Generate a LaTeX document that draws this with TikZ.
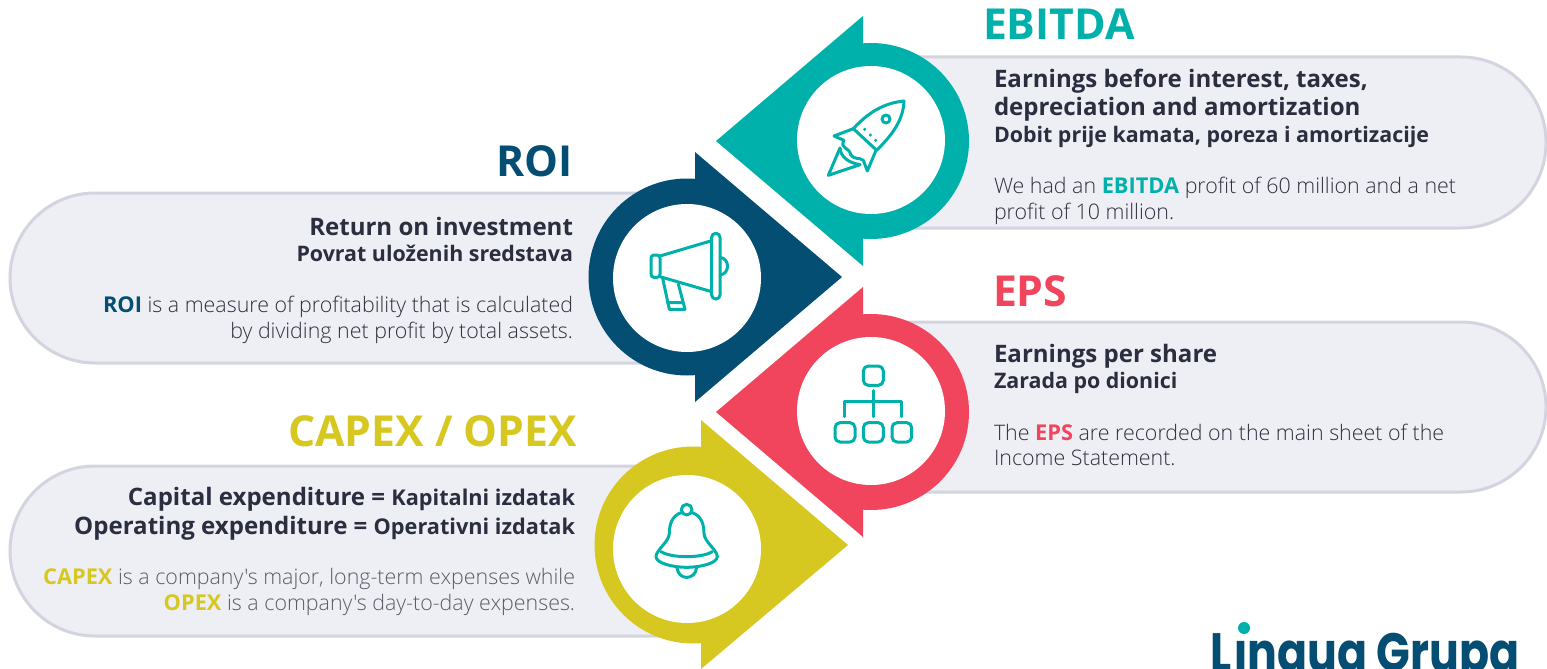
\documentclass[tikz,border=0pt]{standalone}
\usepackage{fontspec}
\setmainfont{Open Sans}[Ligatures=TeXOff]
\newfontfamily\lightf{Open Sans Light}[Ligatures=TeXOff]
\newfontfamily\logofont{Poppins}
\definecolor{teal}{HTML}{00B0AA}
\definecolor{navy}{HTML}{034E72}
\definecolor{rose}{HTML}{F0455C}
\definecolor{mustard}{HTML}{D6C820}
\definecolor{pillfill}{HTML}{EEEFF4}
\definecolor{pillline}{HTML}{D3D4E0}
\definecolor{ink}{HTML}{2A2E3E}
\definecolor{body}{HTML}{2F3140}
\definecolor{bodygray}{HTML}{5A5C68}
\newcommand{\fs}[1]{\fontsize{#1}{#1}\selectfont}
\newcommand{\hl}[2]{{\normalfont\bfseries\fs{21.8}\color{#1}#2}}
\tikzset{
 x=1pt,y=-1pt,
 pill/.style={draw=pillline,fill=pillfill,line width=3pt,rounded corners=85pt},
 icon/.style={draw=teal,line width=3pt,line cap=round,line join=round,fill=none},
 zoomed/.style={x=0.33333pt,y=-0.33333pt},
 txt/.style={inner sep=0pt,outer sep=0pt,text=body},
 L/.style={txt,anchor=base west},
 R/.style={txt,anchor=base east},
 title/.style={font=\bfseries\fs{42.7}},
 head/.style={font=\bfseries\fs{24.05},text=ink},
 sub/.style={font=\bfseries\fs{21.4},text=ink},
 para/.style={font=\lightf\fs{21.4}},
}
\begin{document}
\begin{tikzpicture}
\useasboundingbox (0,0) rectangle (1547,669);
\fill[white] (0,0) rectangle (1547,669);
\clip (0,0) rectangle (1547,669);
% pills
\draw[pill] (800,57) rectangle (1546,228);
\draw[pill] (800,322) rectangle (1546,492);
\draw[pill] (10,193) rectangle (780,363);
\draw[pill] (10,466) rectangle (786,636);
% arrows
\fill[teal] (871,141) circle[radius=98];
\fill[teal] (863,16) -- (716,141) -- (863,266) -- cycle;
\fill[white] (871,140) circle[radius=74];
\fill[navy] (687,277) circle[radius=98.5];
\fill[navy] (695,152) -- (842,277) -- (695,402) -- cycle;
\fill[white] (687,278) circle[radius=74];
\fill[rose] (871,412) circle[radius=98];
\fill[rose] (863,287) -- (716,412) -- (863,537) -- cycle;
\fill[white] (871,411) circle[radius=74];
\fill[mustard] (693,545) circle[radius=98.5];
\fill[mustard] (701,420) -- (848,545) -- (701,669) -- cycle;
\fill[white] (687,549) circle[radius=74];
% rocket
\begin{scope}[shift={(820,92)},zoomed]
\draw[icon] (252,27) .. controls (205,32) and (155,50) .. (100,110) -- (170,175) .. controls (228,118) and (250,75) .. (252,27) -- cycle;
\draw[icon] (198,81) circle[radius=12];
\fill[teal] (134,112) circle[radius=5] (151,129) circle[radius=5] (167,145) circle[radius=5];
\draw[icon] (100,110) -- (42,132) -- (72,145) .. controls (58,170) and (88,165) .. (92,188) .. controls (105,205) and (118,195) .. (130,205) -- (142,237) -- (168,175);
\draw[icon] (60,168) -- (25,250) -- (120,218);
\draw[icon] (60,168) .. controls (62,195) and (85,212) .. (120,218);
\end{scope}
% megaphone
\begin{scope}[shift={(580,150)},zoomed]
\draw[icon,rounded corners=3pt] (213,315) rectangle (240,382);
\draw[icon,rounded corners=4pt] (395,250) rectangle (420,447);
\draw[icon] (240,318) -- (395,272) (240,380) -- (395,425);
\draw[icon] (420,322) .. controls (450,325) and (450,372) .. (420,375);
\draw[icon] (248,385) -- (268,478) -- (315,478) -- (295,402) (262,458) -- (305,458);
\end{scope}
% org chart
\begin{scope}[shift={(700,280)},zoomed]
\draw[icon,rounded corners=5pt] (490,258) rectangle (550,316);
\draw[icon,rounded corners=5pt] (405,428) rectangle (465,486);
\draw[icon,rounded corners=5pt] (490,428) rectangle (550,486);
\draw[icon,rounded corners=5pt] (576,428) rectangle (635,486);
\draw[icon] (520,332) -- (520,410) (433,410) -- (433,364) -- (605,364) -- (605,410);
\end{scope}
% bell
\begin{scope}[shift={(580,410)},zoomed]
\draw[icon] (320,299) circle[radius=16];
\draw[icon] (303,308) .. controls (275,318) and (268,345) .. (268,370) .. controls (268,395) and (228,420) .. (228,440) .. controls (228,460) and (280,472) .. (320,472) .. controls (360,472) and (412,460) .. (412,440) .. controls (412,420) and (372,395) .. (372,370) .. controls (372,345) and (365,318) .. (337,308);
\draw[icon] (243,425) .. controls (275,445) and (365,445) .. (397,425);
\draw[icon] (291,473) .. controls (295,512) and (345,512) .. (350,473);
\end{scope}
% EBITDA
\node[L,title,text=teal] (t1) at (983,40) {EBITDA};
\node[L,head] (h1a) at (994,87) {Earnings before interest, taxes,};
\node[L,head] (h1b) at (994,115) {depreciation and amortization};
\node[L,sub] (s1) at (994,142) {Dobit prije kamata, poreza i amortizacije};
\node[L,para] (p1a) at (994,193) {We had an \hl{teal}{EBITDA} profit of 60 million and a net};
\node[L,para] (p1b) at (994,219) {profit of 10 million.};
% ROI
\node[R,title,text=navy] (t2) at (573,176) {ROI};
\node[R,head] (h2) at (573,235) {Return on investment};
\node[R,sub] (s2) at (573,261) {Povrat uloženih sredstava};
\node[R,para] (p2a) at (573,312) {\hl{navy}{ROI} is a measure of profitability that is calculated};
\node[R,para] (p2b) at (573,338) {by dividing net profit by total assets.};
% EPS
\node[L,title,text=rose] (t3) at (993,306) {EPS};
\node[L,head] (h3) at (994,362) {Earnings per share};
\node[L,sub] (s3) at (994,388) {Zarada po dionici};
\node[L,para] (p3a) at (994,440) {The \hl{rose}{EPS} are recorded on the main sheet of the};
\node[L,para] (p3b) at (994,465) {Income Statement.};
% CAPEX
\node[R,title,text=mustard] (t4) at (577,446) {CAPEX / OPEX};
\node[R,head] (h4a) at (575,505) {Capital expenditure = {\fs{21.7}Kapitalni izdatak}};
\node[R,head] (h4b) at (575,534) {Operating expenditure = {\fs{21.7}Operativni izdatak}};
\node[R,para,text=bodygray] (p4a) at (575,584) {\hl{mustard}{CAPEX} is a company's major, long-term expenses while};
\node[R,para,text=bodygray] (p4b) at (575,610) {\hl{mustard}{OPEX} is a company's day-to-day expenses.};
% logo
\begin{scope}
\clip (1205,600) rectangle (1225,669) (1225,638) rectangle (1254,669) (1254,600) rectangle (1547,669);
\node[L,text=navy,font=\logofont\bfseries\fs{54}] (logo) at (1210,671) {\scalebox{0.82}[1]{L\kern4pt ingua Grupa}};
\end{scope}
\fill[teal] (1244,628) circle[radius=6];
\end{tikzpicture}
\end{document}
